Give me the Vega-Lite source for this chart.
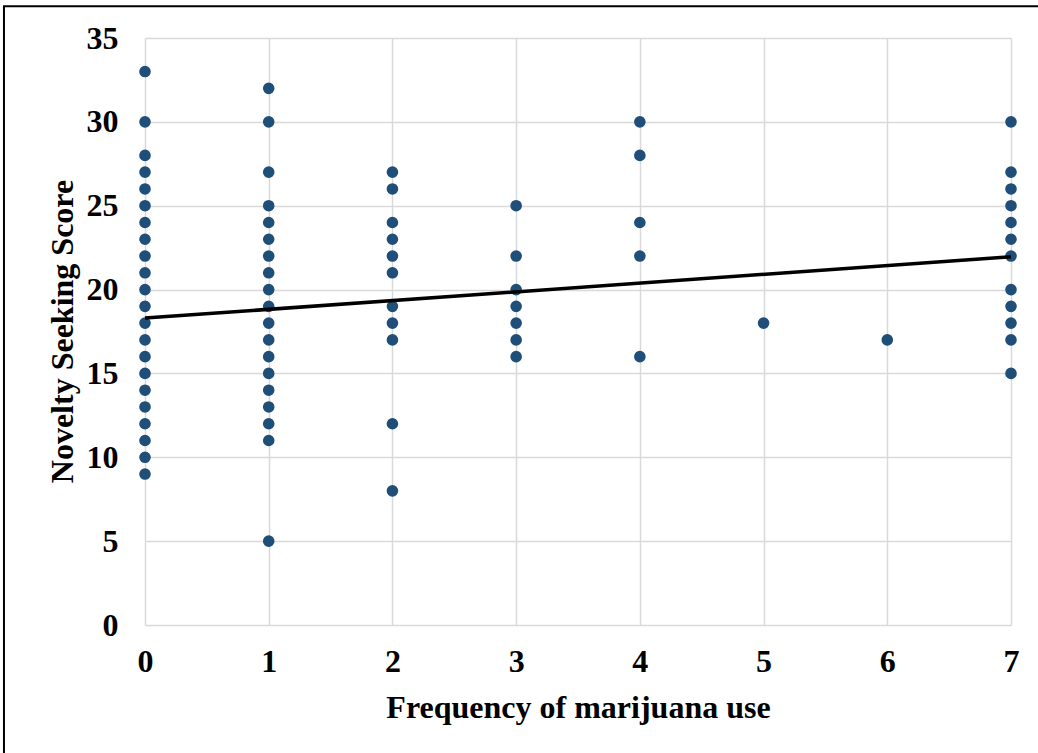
{
  "$schema": "https://vega.github.io/schema/vega-lite/v6.json",
  "width": 866,
  "height": 587,
  "autosize": {"type": "none"},
  "padding": {"left": 145, "top": 38, "right": 27, "bottom": 128},
  "background": "white",
  "config": {
    "view": {"stroke": null},
    "font": "Liberation Serif",
    "axis": {
      "labelFont": "Liberation Serif",
      "labelFontWeight": "bold",
      "labelFontSize": 32,
      "labelColor": "black",
      "titleFont": "Liberation Serif",
      "titleFontWeight": "bold",
      "titleFontSize": 32,
      "titleColor": "black",
      "gridColor": "#d9d9d9",
      "gridWidth": 1.5,
      "domain": false,
      "ticks": false
    }
  },
  "datasets": {
    "points": [
      {"freq": 0, "score": 33}, {"freq": 0, "score": 30}, {"freq": 0, "score": 28}, {"freq": 0, "score": 27},
      {"freq": 0, "score": 26}, {"freq": 0, "score": 25}, {"freq": 0, "score": 24}, {"freq": 0, "score": 23},
      {"freq": 0, "score": 22}, {"freq": 0, "score": 21}, {"freq": 0, "score": 20}, {"freq": 0, "score": 19},
      {"freq": 0, "score": 18}, {"freq": 0, "score": 17}, {"freq": 0, "score": 16}, {"freq": 0, "score": 15},
      {"freq": 0, "score": 14}, {"freq": 0, "score": 13}, {"freq": 0, "score": 12}, {"freq": 0, "score": 11},
      {"freq": 0, "score": 10}, {"freq": 0, "score": 9},
      {"freq": 1, "score": 32}, {"freq": 1, "score": 30}, {"freq": 1, "score": 27}, {"freq": 1, "score": 25},
      {"freq": 1, "score": 24}, {"freq": 1, "score": 23}, {"freq": 1, "score": 22}, {"freq": 1, "score": 21},
      {"freq": 1, "score": 20}, {"freq": 1, "score": 19}, {"freq": 1, "score": 18}, {"freq": 1, "score": 17},
      {"freq": 1, "score": 16}, {"freq": 1, "score": 15}, {"freq": 1, "score": 14}, {"freq": 1, "score": 13},
      {"freq": 1, "score": 12}, {"freq": 1, "score": 11}, {"freq": 1, "score": 5},
      {"freq": 2, "score": 27}, {"freq": 2, "score": 26}, {"freq": 2, "score": 24}, {"freq": 2, "score": 23},
      {"freq": 2, "score": 22}, {"freq": 2, "score": 21}, {"freq": 2, "score": 19}, {"freq": 2, "score": 18},
      {"freq": 2, "score": 17}, {"freq": 2, "score": 12}, {"freq": 2, "score": 8},
      {"freq": 3, "score": 25}, {"freq": 3, "score": 22}, {"freq": 3, "score": 20}, {"freq": 3, "score": 19},
      {"freq": 3, "score": 18}, {"freq": 3, "score": 17}, {"freq": 3, "score": 16},
      {"freq": 4, "score": 30}, {"freq": 4, "score": 28}, {"freq": 4, "score": 24}, {"freq": 4, "score": 22},
      {"freq": 4, "score": 16},
      {"freq": 5, "score": 18},
      {"freq": 6, "score": 17},
      {"freq": 7, "score": 30}, {"freq": 7, "score": 27}, {"freq": 7, "score": 26}, {"freq": 7, "score": 25},
      {"freq": 7, "score": 24}, {"freq": 7, "score": 23}, {"freq": 7, "score": 22}, {"freq": 7, "score": 20},
      {"freq": 7, "score": 19}, {"freq": 7, "score": 18}, {"freq": 7, "score": 17}, {"freq": 7, "score": 15}
    ],
    "trend": [
      {"freq": 0, "score": 18.3},
      {"freq": 7, "score": 21.95}
    ]
  },
  "layer": [
    {
      "data": {"name": "points"},
      "mark": {"type": "point", "filled": true, "shape": "circle", "size": 135, "color": "#1f4e79", "opacity": 1},
      "encoding": {
        "x": {
          "field": "freq", "type": "quantitative",
          "scale": {"domain": [0, 7], "nice": false, "zero": false},
          "axis": {"title": "Frequency of marijuana use", "values": [0, 1, 2, 3, 4, 5, 6, 7], "format": "d", "labelPadding": 21, "titleY": 82, "titleBaseline": "middle", "labelFlush": false}
        },
        "y": {
          "field": "score", "type": "quantitative",
          "scale": {"domain": [0, 35], "nice": false},
          "axis": {"title": "Novelty Seeking Score", "values": [0, 5, 10, 15, 20, 25, 30, 35], "format": "d", "labelPadding": 27, "titleX": -83, "titleY": 293, "titleBaseline": "middle", "titleAngle": -90, "labelFlush": false}
        }
      }
    },
    {
      "data": {"name": "trend"},
      "mark": {"type": "line", "color": "black", "strokeWidth": 3.5},
      "encoding": {
        "x": {"field": "freq", "type": "quantitative"},
        "y": {"field": "score", "type": "quantitative"}
      }
    },
    {
      "data": {"values": [{"frame": 1}]},
      "mark": {"type": "rect", "fill": null, "stroke": "black", "strokeWidth": 2, "clip": false},
      "encoding": {
        "x": {"datum": -1.14},
        "x2": {"datum": 8},
        "y": {"datum": 36.9},
        "y2": {"datum": -10}
      }
    }
  ]
}
